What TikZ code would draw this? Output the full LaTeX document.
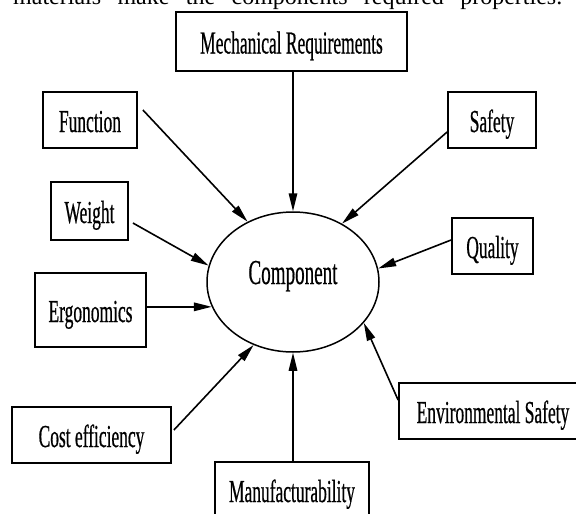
\documentclass[tikz,border=0pt]{standalone}
\usepackage{fontspec}
\setmainfont{Liberation Serif}[FakeStretch=0.545,FakeBold=0.5]
\newfontfamily\plainserif{Liberation Serif}
\usetikzlibrary{arrows.meta,shapes.geometric}
\tikzset{
  boxnode/.style={draw, line width=1.8pt, inner sep=0pt, text height=24pt, text depth=0pt,
    font=\fontsize{32}{36}\selectfont},
  compnode/.style={draw, ellipse, line width=1.5pt, inner sep=0pt, minimum width=172pt,
    minimum height=140pt, text height=10pt, text depth=6pt, font=\fontsize{35}{38}\selectfont},
  arr/.style={line width=1.6pt, -{Triangle[length=18pt,width=8.5pt]}}
}
\begin{document}
\begin{tikzpicture}[x=1pt,y=-1pt]
\useasboundingbox (0,0) rectangle (576,514);
\begin{scope}
\clip (0,0) rectangle (576,514);
\fill[white] (0,0) rectangle (576,514);
\node[anchor=base west, inner sep=0pt, font=\plainserif\fontsize{24}{28}\selectfont] (top) at (13,5)
  {\makebox[549pt][s]{materials make the components required properties.}};
\node[boxnode, minimum width=231pt, minimum height=59pt] (mech) at (291.5,41.5) {Mechanical Requirements\hspace{20pt}};
\node[boxnode, minimum width=94pt, minimum height=56pt] (func) at (90,120) {Function};
\node[boxnode, minimum width=77pt, minimum height=58pt] (weight) at (89.5,211) {Weight};
\node[boxnode, minimum width=111pt, minimum height=74pt] (erg) at (90.5,310) {Ergonomics};
\node[boxnode, minimum width=159pt, minimum height=56pt] (cost) at (91.5,435) {Cost efficiency};
\node[boxnode, minimum width=154pt, minimum height=56pt] (manu) at (292,490) {Manufacturability};
\node[boxnode, minimum width=188pt, minimum height=56pt] (env) at (493,411) {Environmental Safety};
\node[boxnode, minimum width=81pt, minimum height=56pt] (qual) at (492.5,246) {Quality};
\node[boxnode, minimum width=88pt, minimum height=56pt] (safe) at (492,120) {Safety};
\node[compnode] (comp) at (293,282) {Component};
\draw[arr] (comp.north |- mech.south) -- (comp.north);
\draw[arr] ([xshift=5pt,yshift=10pt]func.east) -- (comp.127);
\draw[arr] ([xshift=4pt,yshift=-12pt]weight.east) -- (comp.169);
\draw[arr] (erg.east |- comp.197) -- (comp.197);
\draw[arr] ([xshift=2pt,yshift=5pt]cost.east) -- (comp.238);
\draw[arr] (comp.south |- manu.north) -- (comp.south);
\draw[arr] ([yshift=11pt]env.west) -- (comp.330);
\draw[arr] ([yshift=6pt]qual.west) -- (comp.9);
\draw[arr] ([yshift=-12pt]safe.west) -- (comp.50);
\end{scope}
\end{tikzpicture}
\end{document}
